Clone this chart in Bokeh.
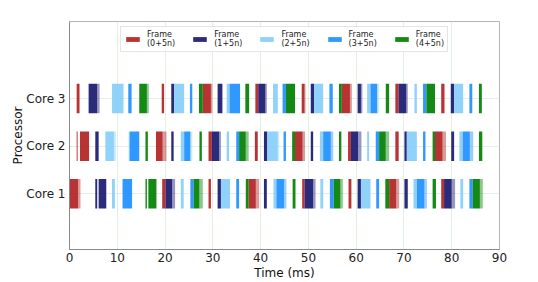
from bokeh.plotting import figure
from bokeh.models import ColumnDataSource, Legend, LegendItem, FixedTicker, Range1d
from bokeh.embed import file_html
from bokeh.resources import INLINE

# ---- data (ms) : (start, end, frame class) ----
core_names = ["Core 1", "Core 2", "Core 3"]
frame_labels = ["Frame\n(0+5n)", "Frame\n(1+5n)", "Frame\n(2+5n)", "Frame\n(3+5n)", "Frame\n(4+5n)"]
frame_colors = ["#b22222", "#191970", "#87cefa", "#1e90ff", "#008000"]
x_ticks = [0, 10, 20, 30, 40, 50, 60, 70, 80, 90]

core1_bars = [
    (0.05, 1.8, 0), (5.4, 5.8, 1), (6.1, 7.7, 1), (8.9, 9.5, 2), (11.1, 13.1, 3),
    (15.9, 16.2, 4), (16.5, 18.2, 4), (19.4, 20.1, 0), (20.1, 21.5, 1), (23.3, 23.9, 2),
    (25.3, 26.0, 3), (26.0, 27.2, 4), (29.1, 29.6, 0), (31.0, 31.7, 1), (31.7, 33.6, 2),
    (34.9, 35.5, 3), (36.9, 37.5, 4), (37.5, 39.0, 0), (40.7, 41.3, 1), (42.7, 43.3, 2),
    (43.3, 44.9, 3), (46.7, 47.3, 4), (48.7, 49.2, 0), (49.2, 51.0, 1), (52.5, 53.1, 2),
    (54.5, 55.3, 3), (55.3, 56.7, 4), (58.4, 59.0, 0), (60.3, 61.0, 1), (61.0, 63.0, 2),
    (64.2, 64.8, 3), (66.1, 66.9, 4), (66.9, 68.4, 0), (70.1, 70.8, 1), (72.0, 72.7, 2),
    (72.7, 74.3, 3), (76.0, 76.7, 4), (77.8, 78.4, 0), (78.4, 80.0, 1), (81.8, 82.4, 2),
    (83.7, 84.4, 3), (84.4, 85.9, 4),
]
core1_tails = [
    (1.8, 2.3, 0), (21.5, 22.1, 1), (27.2, 27.9, 4), (39.0, 39.7, 0), (44.9, 45.4, 3),
    (51.0, 51.5, 1), (56.7, 57.2, 4), (68.4, 69.0, 0), (74.3, 74.8, 3), (80.0, 80.7, 1),
    (85.9, 86.5, 4),
]
core2_bars = [
    (1.5, 1.7, 0), (2.2, 4.1, 0), (5.4, 6.1, 1), (7.5, 9.3, 2), (12.4, 12.6, 2),
    (12.6, 14.6, 3), (15.9, 16.4, 4), (18.1, 19.5, 0), (21.3, 21.8, 1), (23.3, 24.0, 2),
    (24.0, 25.3, 3), (27.2, 27.7, 4), (29.1, 29.8, 0), (29.8, 31.3, 1), (32.9, 33.4, 2),
    (34.9, 35.5, 3), (35.5, 36.9, 4), (38.8, 39.4, 0), (40.7, 41.4, 1), (41.4, 43.6, 2),
    (44.8, 45.3, 3), (46.6, 47.2, 4), (47.2, 48.8, 0), (50.5, 51.0, 1), (52.4, 53.1, 2),
    (53.1, 54.7, 3), (56.4, 56.9, 4), (58.3, 58.9, 0), (58.9, 60.4, 1), (62.3, 62.7, 2),
    (64.1, 64.8, 3), (64.8, 66.2, 4), (68.2, 68.9, 0), (70.1, 70.6, 1), (70.6, 72.7, 2),
    (74.0, 74.5, 3), (76.0, 76.5, 4), (76.5, 78.1, 0), (79.9, 80.5, 1), (81.6, 82.3, 2),
    (82.3, 83.8, 3), (85.7, 86.4, 4),
]
core2_tails = [
    (9.3, 9.7, 2), (19.5, 20.3, 0), (25.3, 25.7, 2), (31.3, 31.7, 1), (36.9, 37.5, 4),
    (43.6, 43.9, 2), (48.8, 49.3, 0), (54.7, 55.2, 3), (60.4, 61.1, 1), (66.2, 66.9, 4),
    (78.1, 78.8, 0), (83.8, 84.5, 3),
]
core3_bars = [
    (1.5, 2.1, 0), (4.0, 5.8, 1), (8.9, 11.3, 2), (12.3, 13.0, 3), (14.6, 16.2, 4),
    (19.3, 19.8, 0), (21.3, 21.9, 1), (21.9, 24.0, 2), (25.2, 25.7, 3), (27.1, 27.9, 4),
    (27.9, 29.6, 0), (31.0, 32.0, 1), (32.9, 33.5, 2), (33.5, 35.7, 3), (36.8, 37.6, 4),
    (38.9, 39.5, 0), (39.5, 41.0, 1), (42.6, 43.6, 2), (44.6, 45.3, 3), (45.3, 47.2, 4),
    (48.6, 49.2, 0), (50.5, 51.2, 1), (51.2, 53.1, 2), (54.4, 55.1, 3), (56.4, 57.0, 4),
    (57.0, 58.7, 0), (60.3, 61.0, 1), (62.3, 63.0, 2), (63.0, 64.4, 3), (66.2, 66.9, 4),
    (68.2, 68.9, 0), (68.9, 70.5, 1), (72.2, 72.7, 2), (74.0, 74.7, 3), (74.7, 76.5, 4),
    (77.8, 78.4, 0), (79.8, 80.5, 1), (80.5, 82.4, 2), (83.7, 84.3, 3), (85.7, 86.3, 4),
]
core3_tails = [
    (5.8, 6.3, 1), (16.2, 16.6, 4), (29.6, 29.9, 0), (41.0, 41.3, 1), (49.2, 49.4, 0),
    (58.7, 59.1, 0), (61.0, 61.3, 1), (64.4, 64.8, 2), (70.5, 70.8, 1), (78.4, 78.6, 0),
]

cores = [(1, core1_bars, core1_tails), (2, core2_bars, core2_tails), (3, core3_bars, core3_tails)]

HALF = 0.31

p = figure(width=538, height=282, output_backend="svg", toolbar_location=None,
           x_range=Range1d(0, 90), y_range=Range1d(-0.17, 4.62),
           min_border_left=69, min_border_right=39, min_border_top=21, min_border_bottom=33)

p.background_fill_color = "white"
p.border_fill_color = "white"
p.outline_line_color = "#b5b5b5"
p.outline_line_width = 1

def build(kind, k):
    d = dict(left=[], right=[], bottom=[], top=[])
    for c, bars, tails in cores:
        lst = bars if kind == "bars" else tails
        for s, e, f in lst:
            if f == k:
                d["left"].append(s)
                d["right"].append(e)
                d["bottom"].append(c - HALF)
                d["top"].append(c + HALF)
    return ColumnDataSource(d)

legend_items = []
for k in range(5):
    rt = p.quad(source=build("tails", k), left="left", right="right", bottom="bottom", top="top",
                fill_color=frame_colors[k], fill_alpha=0.45, line_color=None)
    rb = p.quad(source=build("bars", k), left="left", right="right", bottom="bottom", top="top",
                fill_color=frame_colors[k], fill_alpha=0.92, line_color=None)
    legend_items.append(LegendItem(label=frame_labels[k], renderers=[rb]))

# axes
p.xaxis.ticker = FixedTicker(ticks=x_ticks)
p.yaxis.ticker = FixedTicker(ticks=[1, 2, 3])
p.yaxis.major_label_overrides = {1: core_names[0], 2: core_names[1], 3: core_names[2]}
p.xaxis.axis_label = "Time (ms)"
p.yaxis.axis_label = "Processor"
for ax in (p.xaxis, p.yaxis):
    ax.axis_label_text_font = "DejaVu Sans"
    ax.axis_label_text_font_size = "12px"
    ax.axis_label_text_font_style = "normal"
    ax.axis_label_text_color = "#111111"
    ax.major_label_text_font = "DejaVu Sans"
    ax.major_label_text_font_size = "12px"
    ax.major_label_text_color = "#222222"
    ax.axis_line_color = "#888888"
    ax.major_tick_line_color = "#888888"
    ax.major_tick_out = 0
    ax.major_tick_in = 0
    ax.minor_tick_out = 0
    ax.minor_tick_in = 0
p.xaxis.major_label_standoff = 3
p.xaxis.axis_label_standoff = 1
p.yaxis.major_label_standoff = 4
p.yaxis.axis_label_standoff = -2

p.xgrid.grid_line_color = "#d6ead6"
p.ygrid.grid_line_color = "#d6ead6"
p.xgrid.grid_line_alpha = 0.7
p.ygrid.grid_line_alpha = 0.7

legend = Legend(items=legend_items, orientation="horizontal", location="top_center")
legend.label_text_font = "DejaVu Sans"
legend.label_text_font_size = "8px"
legend.label_text_color = "#222222"
legend.label_text_line_height = 1.0
legend.glyph_width = 17
legend.glyph_height = 6
legend.label_standoff = 6
legend.spacing = 16
legend.padding = 3
legend.margin = 5
legend.border_line_color = "#cccccc"
legend.background_fill_alpha = 0.9
p.add_layout(legend)

open("out.html", "w").write(file_html(p, INLINE))
